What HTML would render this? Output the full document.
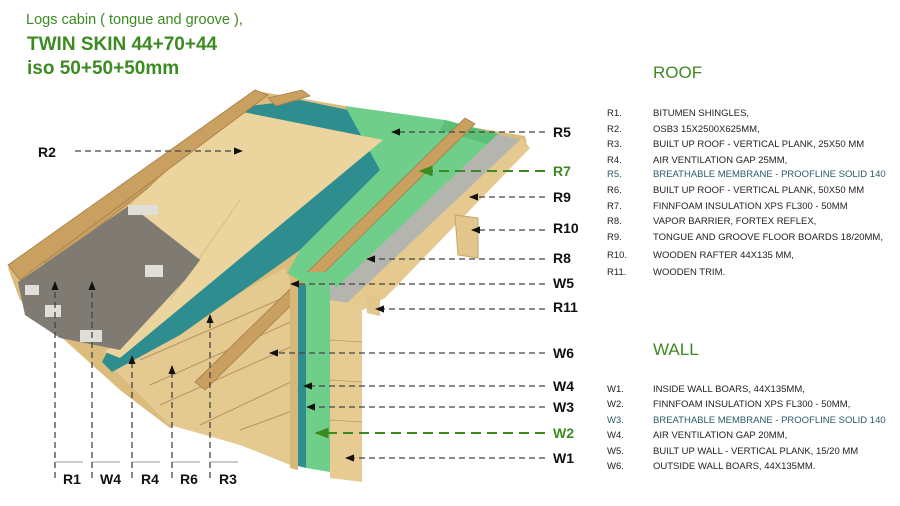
<!DOCTYPE html>
<html><head><meta charset="utf-8"><style>
body{margin:0;background:#fff;width:900px;height:506px;overflow:hidden;font-family:"Liberation Sans",sans-serif}
svg{position:absolute;left:0;top:0}
</style></head><body>
<svg width="900" height="506" viewBox="0 0 900 506" xmlns="http://www.w3.org/2000/svg">
<defs>
<marker id="a" viewBox="0 0 10 10" refX="9" refY="5" markerWidth="7" markerHeight="7" orient="auto-start-reverse"><path d="M0,1 L10,5 L0,9z" fill="#111"/></marker>
<marker id="g" viewBox="0 0 10 10" refX="9" refY="5" markerWidth="7" markerHeight="7" orient="auto-start-reverse"><path d="M0,1 L10,5 L0,9z" fill="#3c8a22"/></marker>
</defs>
<g font-family="Liberation Sans, sans-serif" fill="#3c8a22">
<text x="26" y="24" font-size="14.5">Logs cabin ( tongue and groove ),</text>
<text x="27" y="50" font-size="19" font-weight="bold">TWIN SKIN 44+70+44</text>
<text x="27" y="74" font-size="19" font-weight="bold">iso 50+50+50mm</text>
<text x="653" y="78" font-size="17">ROOF</text>
<text x="653" y="355" font-size="17">WALL</text>
</g>
<!-- roof base wood -->
<polygon points="8,268 262,92 525,136 528,150 380,300 345,318 170,428 120,390 20,300" fill="#dcbc7c"/>
<!-- underside soffit boards & inner wall -->
<polygon points="110,365 285,268 298,300 298,468 240,445 170,425" fill="#e4c990"/>
<g stroke="#b8955c" stroke-width="1">
<line x1="140" y1="360" x2="290" y2="295"/><line x1="150" y1="385" x2="295" y2="320"/><line x1="160" y1="405" x2="295" y2="345"/>
<line x1="200" y1="425" x2="295" y2="380"/><line x1="240" y1="430" x2="295" y2="410"/>
</g>
<!-- teal membrane roof -->
<polygon points="233,108 300,100 425,126 300,250 180,335 112,372 102,362" fill="#2e8d8e"/>
<!-- green foam roof -->
<polygon points="345,106 445,120 498,134 332,292 288,272 300,250 380,170" fill="#6fcf8a"/>
<polygon points="445,120 498,134 490,145 440,130" fill="#5cbf78"/>
<!-- grey barrier -->
<polygon points="498,134 522,140 350,300 340,318 330,300 332,292" fill="#b5b5b0"/>
<!-- floor boards edge -->
<polygon points="522,138 530,148 385,298 348,318 345,305" fill="#e6c98e"/>
<!-- left battens -->
<g fill="#c9a060" stroke="#a47e45" stroke-width="0.8">
<polygon points="40,258 213,125 222,130 48,266"/>
</g>
<!-- OSB -->
<polygon points="233,110 383,140 120,358 105,352 185,280 200,260 130,205" fill="#ebd49e"/>
<line x1="240" y1="200" x2="170" y2="300" stroke="#d7bd85"/>
<!-- shingles -->
<polygon points="18,282 130,205 200,260 185,280 120,350 60,338 25,315" fill="#807b72"/>
<g fill="#e0ded8"><rect x="25" y="285" width="14" height="10"/><rect x="45" y="305" width="16" height="12"/><rect x="128" y="205" width="30" height="10"/><rect x="145" y="265" width="18" height="12"/><rect x="80" y="330" width="22" height="12"/></g>
<!-- battens -->
<g fill="#c9a060" stroke="#a47e45" stroke-width="0.8">
<polygon points="8,265 255,90 268,95 20,280"/>
<polygon points="195,382 465,118 475,124 205,390"/>
<polygon points="268,98 302,90 310,96 276,106"/>
</g>
<!-- wall -->
<polygon points="290,280 298,280 298,470 290,468" fill="#d7b878"/>
<polygon points="298,285 306,285 306,468 298,466" fill="#2e8d8e"/>
<polygon points="286,272 330,272 330,472 306,468 306,285" fill="#6fcf8a"/>
<polygon points="330,280 345,300 345,310 330,305" fill="#b5b5b0"/>
<polygon points="330,300 362,305 362,482 330,478" fill="#e6cb93"/>
<g stroke="#c6a46a"><line x1="330" y1="340" x2="362" y2="342"/><line x1="330" y1="380" x2="362" y2="382"/><line x1="330" y1="420" x2="362" y2="422"/></g>
<!-- rafter end & trim -->
<polygon points="455,215 478,218 478,258 458,255" fill="#e2c68c" stroke="#c6a46a"/>
<polygon points="365,295 380,298 380,316 367,313" fill="#e2c68c"/>
<!-- label lines -->
<g stroke="#444" stroke-width="1.3" stroke-dasharray="6,4" fill="none" marker-end="url(#a)">
<line x1="75" y1="151" x2="242" y2="151"/>
<line x1="545" y1="132" x2="392" y2="132"/>
<line x1="545" y1="197" x2="470" y2="197"/>
<line x1="545" y1="230" x2="472" y2="230"/>
<line x1="545" y1="259" x2="367" y2="259"/>
<line x1="545" y1="284" x2="291" y2="284"/>
<line x1="545" y1="309" x2="376" y2="309"/>
<line x1="545" y1="353" x2="270" y2="353"/>
<line x1="545" y1="386" x2="304" y2="386"/>
<line x1="545" y1="407" x2="307" y2="407"/>
<line x1="545" y1="458" x2="346" y2="458"/>
<line x1="55" y1="478" x2="55" y2="282"/>
<line x1="92" y1="478" x2="92" y2="282"/>
<line x1="132" y1="478" x2="132" y2="356"/>
<line x1="172" y1="478" x2="172" y2="366"/>
<line x1="210" y1="478" x2="210" y2="315"/>
</g>
<g stroke="#3c8a22" stroke-width="2" stroke-dasharray="10,6" fill="none" marker-end="url(#g)">
<line x1="545" y1="171" x2="420" y2="171"/>
<line x1="545" y1="433" x2="316" y2="433"/>
</g>
<g stroke="#999" stroke-width="1"><line x1="55" y1="462" x2="83" y2="462"/><line x1="92" y1="462" x2="120" y2="462"/><line x1="132" y1="462" x2="160" y2="462"/><line x1="172" y1="462" x2="200" y2="462"/><line x1="210" y1="462" x2="238" y2="462"/></g>
<g font-family="Liberation Sans, sans-serif" font-size="14" font-weight="bold" fill="#111">
<text x="38" y="157">R2</text>
<text x="553" y="137">R5</text>
<text x="553" y="176" fill="#3c8a22">R7</text>
<text x="553" y="202">R9</text>
<text x="553" y="233">R10</text>
<text x="553" y="263">R8</text>
<text x="553" y="288">W5</text>
<text x="553" y="312">R11</text>
<text x="553" y="358">W6</text>
<text x="553" y="391">W4</text>
<text x="553" y="412">W3</text>
<text x="553" y="438" fill="#3c8a22">W2</text>
<text x="553" y="463">W1</text>
<text x="63" y="484">R1</text>
<text x="100" y="484">W4</text>
<text x="141" y="484">R4</text>
<text x="180" y="484">R6</text>
<text x="219" y="484">R3</text>
</g>
<g font-family="Liberation Sans, sans-serif" font-size="9.5" fill="#222">
<text x="607" y="116">R1.</text><text x="653" y="116">BITUMEN SHINGLES,</text>
<text x="607" y="132">R2.</text><text x="653" y="132">OSB3 15X2500X625MM,</text>
<text x="607" y="147">R3.</text><text x="653" y="147">BUILT UP ROOF - VERTICAL PLANK, 25X50 MM</text>
<text x="607" y="163">R4.</text><text x="653" y="163">AIR VENTILATION GAP 25MM,</text>
<text x="607" y="177" fill="#2a5a6a">R5.</text><text x="653" y="177" fill="#2a5a6a">BREATHABLE MEMBRANE - PROOFLINE SOLID 140</text>
<text x="607" y="193">R6.</text><text x="653" y="193">BUILT UP ROOF - VERTICAL PLANK, 50X50 MM</text>
<text x="607" y="209">R7.</text><text x="653" y="209">FINNFOAM INSULATION XPS FL300 - 50MM</text>
<text x="607" y="224">R8.</text><text x="653" y="224">VAPOR BARRIER, FORTEX REFLEX,</text>
<text x="607" y="240">R9.</text><text x="653" y="240">TONGUE AND GROOVE FLOOR BOARDS 18/20MM,</text>
<text x="607" y="258">R10.</text><text x="653" y="258">WOODEN RAFTER 44X135 MM,</text>
<text x="607" y="275">R11.</text><text x="653" y="275">WOODEN TRIM.</text>
<text x="607" y="392">W1.</text><text x="653" y="392">INSIDE WALL BOARS, 44X135MM,</text>
<text x="607" y="407">W2.</text><text x="653" y="407">FINNFOAM INSULATION XPS FL300 - 50MM,</text>
<text x="607" y="423" fill="#2a5a6a">W3.</text><text x="653" y="423" fill="#2a5a6a">BREATHABLE MEMBRANE - PROOFLINE SOLID 140</text>
<text x="607" y="438">W4.</text><text x="653" y="438">AIR VENTILATION GAP 20MM,</text>
<text x="607" y="454">W5.</text><text x="653" y="454">BUILT UP WALL - VERTICAL PLANK, 15/20 MM</text>
<text x="607" y="469">W6.</text><text x="653" y="469">OUTSIDE WALL BOARS, 44X135MM.</text>
</g>
</svg>
</body></html>
